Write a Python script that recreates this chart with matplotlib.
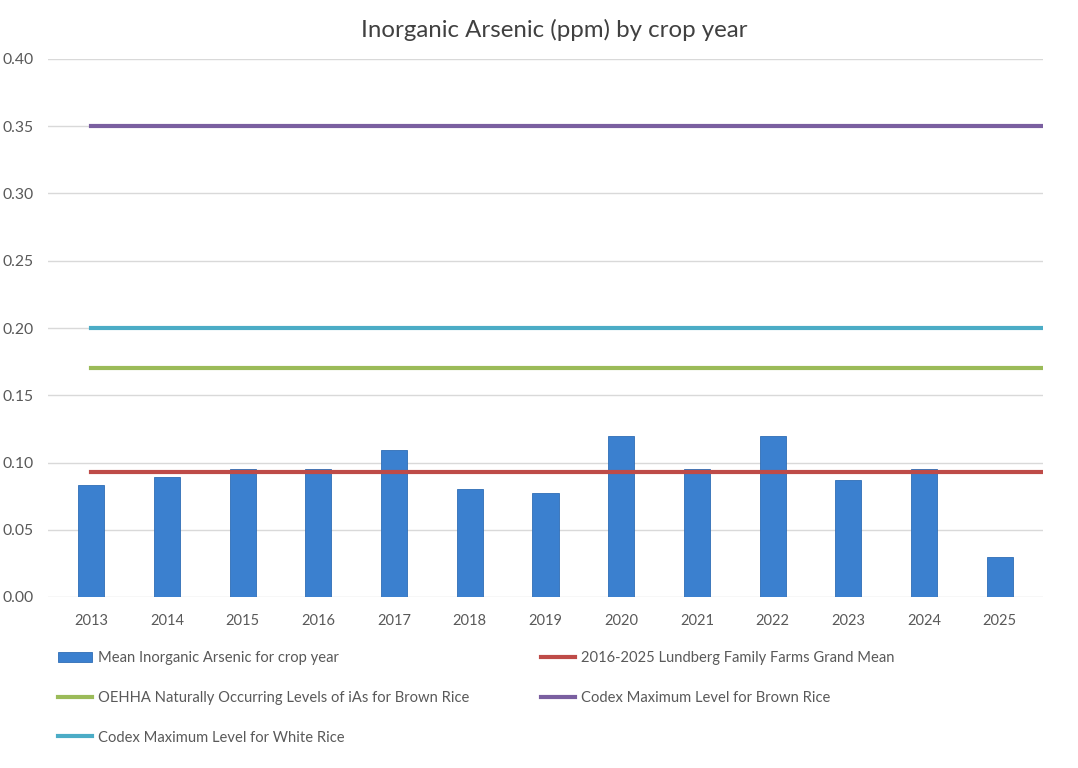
import matplotlib.pyplot as plt
import numpy as np

plt.rcParams['font.family'] = ['Lato', 'DejaVu Sans']

# crop years and mean inorganic arsenic (ppm)
years = ['2013', '2014', '2015', '2016', '2017', '2018', '2019',
         '2020', '2021', '2022', '2023', '2024', '2025']
mean_ias = [0.083, 0.089, 0.095, 0.095, 0.109, 0.080, 0.077,
            0.120, 0.095, 0.120, 0.087, 0.095, 0.030]

# reference levels (ppm)
grand_mean = 0.093
oehha_brown = 0.17
codex_brown = 0.35
codex_white = 0.20

blue = '#3B80CF'
red = '#BE4B48'
green = '#9BBB59'
purple = '#7A5FA0'
aqua = '#4BACC6'
txt = '#595959'

fig = plt.figure(figsize=(10.78, 7.68), dpi=100)
ax = fig.add_axes([48 / 1078, 171 / 768, 995 / 1078, 538 / 768])

x = np.arange(len(years))
xl = (-0.57, len(years) - 1 + 0.57)

bars = ax.bar(x, mean_ias, width=0.345, color=blue, edgecolor='#2F6DB5',
              linewidth=0.6, zorder=2, label='Mean Inorganic Arsenic for crop year')

# flat reference lines, from the first category to the right edge
lx = [x[0], xl[1]]
l_mean, = ax.plot(lx, [grand_mean] * 2, color=red, lw=3, zorder=3,
                  label='2016-2025 Lundberg Family Farms Grand Mean')
l_oehha, = ax.plot(lx, [oehha_brown] * 2, color=green, lw=3, zorder=3,
                   label='OEHHA Naturally Occurring Levels of iAs for Brown Rice')
l_brown, = ax.plot(lx, [codex_brown] * 2, color=purple, lw=3, zorder=3,
                   label='Codex Maximum Level for Brown Rice')
l_white, = ax.plot(lx, [codex_white] * 2, color=aqua, lw=3, zorder=3,
                   label='Codex Maximum Level for White Rice')

ax.set_xlim(*xl)
ax.set_ylim(0, 0.40)
ax.set_yticks(np.arange(0, 0.401, 0.05))
ax.set_yticklabels([f'{v:.2f}' for v in np.arange(0, 0.401, 0.05)])
ax.set_xticks(x)
ax.set_xticklabels(years)
ax.grid(axis='y', color='#D9D9D9', lw=1, zorder=0)
for s in ax.spines.values():
    s.set_visible(False)
ax.tick_params(length=0, colors=txt, labelsize=10.5)
ax.tick_params(axis='y', labelsize=11.3)
ax.tick_params(axis='x', pad=12)
for lab in ax.get_yticklabels():
    lab.set_horizontalalignment('left')
    lab.set_x(-48 / 995 + 0.003)
ax.yaxis.set_tick_params(pad=0)

fig.text(554 / 1078, 0.961, 'Inorganic Arsenic (ppm) by crop year', ha='center',
         va='center', fontsize=17.3, color='#404040')

leg_kw = dict(frameon=False, fontsize=10.6, labelcolor=txt, handlelength=2.3,
              handletextpad=0.4, labelspacing=1.75, loc='upper left',
              borderaxespad=0, borderpad=0)
fig.legend([bars, l_oehha, l_white], [bars.get_label(), l_oehha.get_label(),
           l_white.get_label()], bbox_to_anchor=(58 / 1078, 1 - 651 / 768), **leg_kw)
fig.legend([l_mean, l_brown], [l_mean.get_label(), l_brown.get_label()],
           bbox_to_anchor=(541 / 1078, 1 - 651 / 768), **leg_kw)

fig.savefig('out.png', dpi=100)
